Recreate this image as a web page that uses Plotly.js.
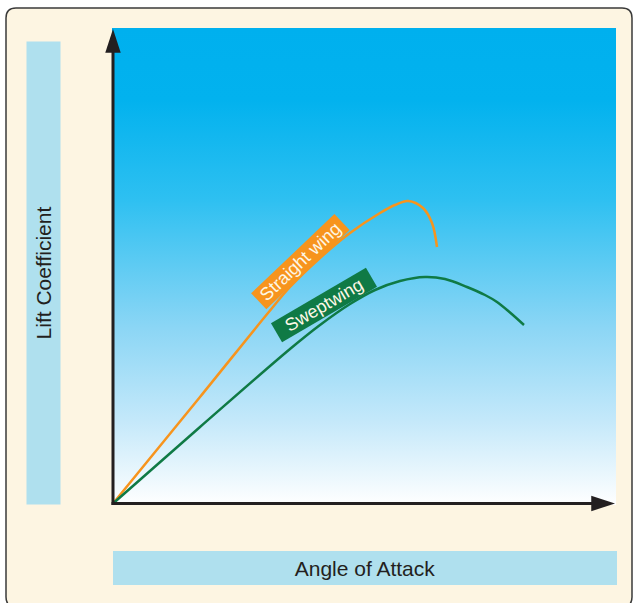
<!DOCTYPE html>
<html><head><meta charset="utf-8">
<script src="https://cdn.plot.ly/plotly-3.0.1.min.js"></script>
<style>html,body{margin:0;padding:0;background:#ffffff;} #chart{width:634px;height:603px;}</style>
</head><body><div id="chart"></div>
<script>
// ---- data (angle of attack in arbitrary degrees, lift coefficient) ----
const straightAlpha = [0, 4.35, 7.75, 8.85, 10.35, 11.85, 13.35, 14.1, 14.75, 15.5, 15.95, 16.2];
const straightCL    = [0, 0.426, 0.762, 0.866, 0.982, 1.082, 1.162, 1.194, 1.21, 1.182, 1.122, 1.026];
const sweptAlpha    = [0, 4.35, 8.85, 10.35, 11.85, 13.1, 14.35, 15.6, 16.6, 17.7, 18.6, 19.2, 19.85, 20.55];
const sweptCL       = [0, 0.306, 0.618, 0.714, 0.798, 0.854, 0.89, 0.906, 0.898, 0.866, 0.834, 0.806, 0.764, 0.714];
const seriesNames   = ['Straight wing', 'Sweptwing'];
const xTitle = 'Angle of Attack';
const yTitle = 'Lift Coefficient';

// ---- layout geometry ----
const W = 634, H = 603;
const M = {l: 110, r: 18, t: 28, b: 95};
const XR = [-0.15, 25.15];
const YR = [-0.018, 1.902];
const X_TIP = 25.1, Y_TIP = 1.898;
const BG = {x0: -0.05, x1: 25.15, y0: -0.006, y1: 1.902};
const FONT = 'Liberation Sans, Arial, Helvetica, sans-serif';
const INK = '#231f20';
const ORANGE = '#f7941d', GREEN = '#0f7a45';

const pw = W - M.l - M.r, ph = H - M.t - M.b;
const px2x = p => (p - M.l) / pw;
const py2y = p => (H - M.b - p) / ph;

// rounded frame path in paper coords
function framePath(L, T, R, B, r) {
  const P = (x, y) => px2x(x).toFixed(5) + ',' + py2y(y).toFixed(5);
  return 'M' + P(L + r, T) + ' L' + P(R - r, T) + ' Q' + P(R, T) + ' ' + P(R, T + r) +
         ' L' + P(R, B - r) + ' Q' + P(R, B) + ' ' + P(R - r, B) +
         ' L' + P(L + r, B) + ' Q' + P(L, B) + ' ' + P(L, B - r) +
         ' L' + P(L, T + r) + ' Q' + P(L, T) + ' ' + P(L + r, T) + ' Z';
}

const traces = [
  { // gradient plot background
    type: 'scatter', mode: 'none', hoverinfo: 'skip', showlegend: false,
    x: [BG.x0, BG.x1, BG.x1, BG.x0, BG.x0], y: [BG.y0, BG.y0, BG.y1, BG.y1, BG.y0],
    fill: 'toself',
    fillgradient: {type: 'vertical', colorscale: [
      [0, '#ffffff'], [0.18, '#c3e8fa'], [0.37, '#8cd6f5'], [0.64, '#2ec0f1'], [0.85, '#02b2ee'], [1, '#00b0ee']]}
  },
  {
    type: 'scatter', mode: 'lines', name: seriesNames[0], showlegend: false,
    x: straightAlpha, y: straightCL, line: {color: ORANGE, width: 2.5, shape: 'spline', smoothing: 1.0}
  },
  {
    type: 'scatter', mode: 'lines', name: seriesNames[1], showlegend: false,
    x: sweptAlpha, y: sweptCL, line: {color: GREEN, width: 2.5, shape: 'spline', smoothing: 1.0}
  },
  { // x axis line
    type: 'scatter', mode: 'lines', showlegend: false, hoverinfo: 'skip', cliponaxis: false,
    x: [-0.075, X_TIP - 0.6], y: [0, 0], line: {color: INK, width: 3}
  },
  { // y axis line
    type: 'scatter', mode: 'lines', showlegend: false, hoverinfo: 'skip', cliponaxis: false,
    x: [0, 0], y: [-0.006, Y_TIP - 0.05], line: {color: INK, width: 3}
  },
  { // arrow heads
    type: 'scatter', mode: 'markers', showlegend: false, hoverinfo: 'skip', cliponaxis: false,
    x: [X_TIP, 0], y: [0, Y_TIP],
    marker: {symbol: 'arrow', size: 25, angle: [90, 0], color: INK, line: {width: 0}}
  }
];

const layout = {
  width: W, height: H,
  margin: M,
  paper_bgcolor: '#ffffff', plot_bgcolor: 'rgba(0,0,0,0)',
  showlegend: false,
  xaxis: {range: XR, visible: false, fixedrange: true},
  yaxis: {range: YR, visible: false, fixedrange: true},
  shapes: [{
    type: 'path', xref: 'paper', yref: 'paper', layer: 'below',
    path: framePath(6, 8, 632, 607, 10),
    fillcolor: '#fdf5e2', line: {color: '#3a3a3a', width: 1.5}
  }],
  annotations: [
    {
      text: yTitle, xref: 'paper', yref: 'paper', x: px2x(43), y: py2y(273.5),
      xanchor: 'center', yanchor: 'middle', textangle: -90, showarrow: false,
      width: 463, height: 34, bgcolor: '#afe0ee', borderwidth: 0, borderpad: 0,
      font: {family: FONT, size: 21, color: INK}
    },
    {
      text: xTitle, xref: 'paper', yref: 'paper', x: px2x(365), y: py2y(568),
      xanchor: 'center', yanchor: 'middle', showarrow: false,
      width: 504, height: 34, bgcolor: '#afe0ee', borderwidth: 0, borderpad: 0,
      font: {family: FONT, size: 21, color: INK}
    },
    {
      text: seriesNames[0], xref: 'x', yref: 'y', x: 9.35, y: 0.966,
      xanchor: 'center', yanchor: 'middle', textangle: -43.6, showarrow: false,
      width: 115, height: 22, bgcolor: ORANGE, borderwidth: 0, borderpad: 0,
      font: {family: FONT, size: 18, color: '#fdf7e6'}
    },
    {
      text: seriesNames[1], xref: 'x', yref: 'y', x: 10.55, y: 0.794,
      xanchor: 'center', yanchor: 'middle', textangle: -30.3, showarrow: false,
      width: 110, height: 22, bgcolor: GREEN, borderwidth: 0, borderpad: 0,
      font: {family: FONT, size: 18, color: '#fdf7e6'}
    }
  ]
};

Plotly.newPlot('chart', traces, layout, {staticPlot: true, displayModeBar: false});
</script>
</body></html>
